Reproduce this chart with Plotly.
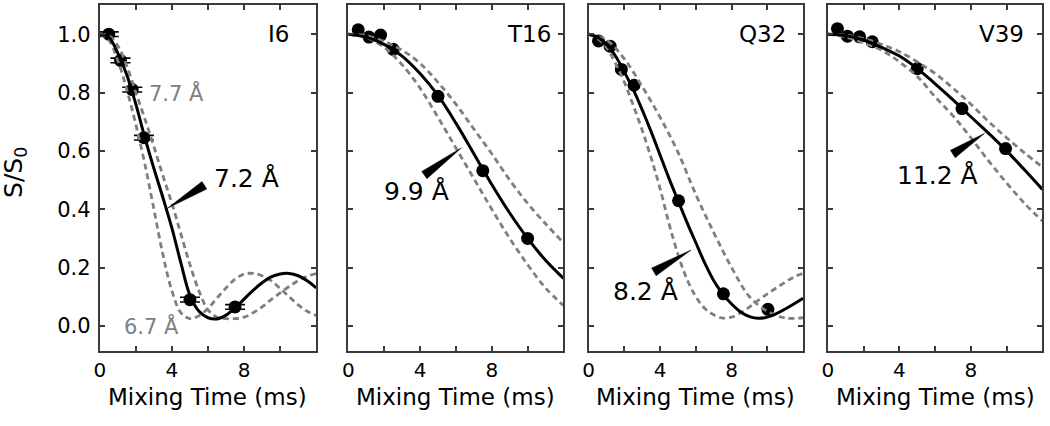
import plotly.graph_objects as go

# ---------------- data ----------------
t_half = [0.0, 0.5, 1.0, 1.5, 2.0, 2.5, 3.0, 3.5, 4.0, 4.5, 5.0, 5.5, 6.0,
          6.5, 7.0, 7.5, 8.0, 8.5, 9.0, 9.5, 10.0, 10.5, 11.0, 11.5, 12.0]
t_one = [0.0, 1.0, 2.0, 3.0, 4.0, 5.0, 6.0, 7.0, 8.0, 9.0, 10.0, 11.0, 12.0]

panel_names = ["I6", "T16", "Q32", "V39"]

# I6
i6_t = [0.5, 1.15, 1.8, 2.45, 5.0, 7.5]
i6_y = [1.0, 0.91, 0.81, 0.645, 0.09, 0.065]
i6_err = [0.008, 0.008, 0.008, 0.008, 0.008, 0.008]
i6_fit = [1.0, 0.99, 0.935, 0.86, 0.76, 0.645, 0.54, 0.44, 0.335, 0.215, 0.105, 0.05, 0.028,
          0.024, 0.037, 0.062, 0.092, 0.122, 0.148, 0.168, 0.178, 0.18, 0.172, 0.155, 0.13]
i6_short = [1.0, 0.98, 0.91, 0.81, 0.69, 0.555, 0.40, 0.245, 0.12, 0.045, 0.025, 0.035, 0.06,
            0.095, 0.13, 0.16, 0.178, 0.18, 0.172, 0.155, 0.128, 0.10, 0.072, 0.05, 0.036]
i6_long = [1.0, 0.995, 0.96, 0.89, 0.80, 0.71, 0.615, 0.515, 0.42, 0.315, 0.21, 0.12, 0.055,
           0.03, 0.025, 0.025, 0.03, 0.045, 0.065, 0.09, 0.113, 0.135, 0.155, 0.17, 0.18]

# T16
t16_t = [0.55, 1.15, 1.8, 2.5, 5.0, 7.5, 10.0]
t16_y = [1.015, 0.99, 0.997, 0.948, 0.787, 0.532, 0.30]
t16_fit = [1.0, 0.99, 0.965, 0.925, 0.865, 0.79, 0.695, 0.59, 0.485, 0.387, 0.30, 0.225, 0.163]
t16_long = [1.0, 0.995, 0.975, 0.945, 0.90, 0.835, 0.76, 0.675, 0.59, 0.50, 0.42, 0.35, 0.285]
t16_short = [1.0, 0.988, 0.955, 0.895, 0.815, 0.715, 0.61, 0.505, 0.40, 0.30, 0.21, 0.13, 0.07]

# Q32
q32_t = [0.55, 1.2, 1.83, 2.54, 5.03, 7.54, 10.03]
q32_y = [0.977, 0.959, 0.879, 0.825, 0.429, 0.11, 0.057]
q32_fit = [1.0, 0.99, 0.965, 0.925, 0.87, 0.81, 0.74, 0.665, 0.585, 0.505, 0.43, 0.355, 0.285,
           0.215, 0.155, 0.11, 0.075, 0.048, 0.032, 0.026, 0.03, 0.042, 0.058, 0.076, 0.095]
q32_long = [1.0, 0.98, 0.915, 0.82, 0.715, 0.595, 0.45, 0.32, 0.20, 0.10, 0.05, 0.027, 0.028]
q32_short = [1.0, 0.985, 0.955, 0.90, 0.835, 0.755, 0.67, 0.575, 0.47, 0.35, 0.245, 0.16, 0.10,
             0.06, 0.038, 0.027, 0.03, 0.045, 0.065, 0.088, 0.11, 0.13, 0.15, 0.168, 0.18]

# V39
v39_t = [0.53, 1.09, 1.77, 2.48, 5.0, 7.5, 9.94]
v39_y = [1.019, 0.993, 0.991, 0.974, 0.882, 0.745, 0.608]
v39_fit = [1.0, 0.995, 0.98, 0.955, 0.925, 0.882, 0.83, 0.775, 0.717, 0.66, 0.60, 0.535, 0.468]
v39_long = [1.0, 0.997, 0.985, 0.965, 0.94, 0.905, 0.865, 0.815, 0.76, 0.70, 0.645, 0.593, 0.545]
v39_short = [1.0, 0.99, 0.97, 0.945, 0.905, 0.855, 0.785, 0.72, 0.645, 0.565, 0.49, 0.42, 0.36]

x_tick_vals = [0, 4, 8]
y_tick_vals = [0.0, 0.2, 0.4, 0.6, 0.8, 1.0]

# distance labels: (panel, text, x, y, color, size)
dist_labels = [
    (0, "7.7 Å", 4.25, 0.80, "#808080", 21),
    (0, "6.7 Å", 2.85, 0.0, "#808080", 21),
    (0, "7.2 Å", 8.15, 0.505, "black", 25),
    (1, "9.9 Å", 3.8, 0.462, "black", 25),
    (2, "8.2 Å", 3.2, 0.118, "black", 25),
    (3, "11.2 Å", 6.13, 0.517, "black", 25),
]
# pointer wedges: (panel, tip_x, tip_y, base_x, base_y)
wedges = [
    (0, 3.75, 0.403, 5.8, 0.482),
    (1, 6.3, 0.61, 4.24, 0.517),
    (2, 5.73, 0.26, 3.65, 0.185),
    (3, 8.77, 0.66, 6.99, 0.589),
]
panel_label_x = [10.6, 11.4, 11.18, 11.1]

# ---------------- figure ----------------
W, H = 1050, 426
MT, MB = 5, 75
domains = [[94.3 / W, 312.0 / W], [344.3 / W, 560.7 / W],
           [586.0 / W, 801.7 / W], [826.7 / W, 1042.3 / W]]
X_RANGE = [0, 12]
Y_RANGE = [-0.086, 1.1]
FONT = "DejaVu Sans"
FRAME = "#3a3a3a"
DASH_C = "#7f7f7f"

fig = go.Figure()

panels = [
    (i6_t, i6_y, i6_err, t_half, i6_fit, t_half, i6_short, t_half, i6_long),
    (t16_t, t16_y, None, t_one, t16_fit, t_one, t16_short, t_one, t16_long),
    (q32_t, q32_y, None, t_half, q32_fit, t_half, q32_short, t_one, q32_long),
    (v39_t, v39_y, None, t_one, v39_fit, t_one, v39_short, t_one, v39_long),
]

for i, (mx, my, merr, tf, fit, ts, short, tl, long_) in enumerate(panels):
    xa = "x" if i == 0 else f"x{i+1}"
    ya = "y" if i == 0 else f"y{i+1}"
    err = dict(type="data", array=merr, visible=True, color="black",
               thickness=1.6, width=10) if merr else None
    fig.add_trace(go.Scatter(x=mx, y=my, mode="markers", xaxis=xa, yaxis=ya,
                             marker=dict(color="black", size=13),
                             error_y=err, showlegend=False, hoverinfo="skip"))
    for tt, yy in ((ts, short), (tl, long_)):
        fig.add_trace(go.Scatter(x=tt, y=yy, mode="lines", xaxis=xa, yaxis=ya,
                                 line=dict(color=DASH_C, width=2.8, dash="6px,4px",
                                           shape="spline", smoothing=1.0),
                                 showlegend=False, hoverinfo="skip"))
    fig.add_trace(go.Scatter(x=tf, y=fit, mode="lines", xaxis=xa, yaxis=ya,
                             line=dict(color="black", width=3, shape="spline", smoothing=1.0),
                             showlegend=False, hoverinfo="skip"))

layout = dict(width=W, height=H, paper_bgcolor="white", plot_bgcolor="white",
              margin=dict(l=0, r=0, t=MT, b=MB), showlegend=False,
              font=dict(family=FONT, size=21, color="black"))
for i in range(4):
    xk = "xaxis" if i == 0 else f"xaxis{i+1}"
    yk = "yaxis" if i == 0 else f"yaxis{i+1}"
    layout[xk] = dict(domain=domains[i], range=X_RANGE, anchor="y" if i == 0 else f"y{i+1}",
                      tickvals=x_tick_vals, ticks="inside",
                      ticklen=5, tickwidth=1.5, tickcolor=FRAME, showline=True,
                      linecolor=FRAME, linewidth=2, mirror="ticks", showgrid=False,
                      zeroline=False, tickfont=dict(family=FONT, size=20, color="black"),
                      ticklabelstandoff=0,
                      minor=dict(dtick=2, tick0=0, ticks="inside", ticklen=5,
                                 tickwidth=1.5, tickcolor=FRAME, showgrid=False))
    layout[yk] = dict(domain=[0, 1], range=Y_RANGE, anchor="x" if i == 0 else f"x{i+1}",
                      tickvals=y_tick_vals, tickformat=".1f", ticks="inside",
                      ticklen=5, tickwidth=1.5, tickcolor=FRAME, showline=True,
                      linecolor=FRAME, linewidth=2, mirror="ticks", showgrid=False,
                      zeroline=False, showticklabels=(i == 0),
                      tickfont=dict(family=FONT, size=21, color="black"),
                      ticklabelstandoff=3)
fig.update_layout(**layout)

annotations = []
plot_h = H - MT - MB
for i, name in enumerate(panel_names):
    xr = "x" if i == 0 else f"x{i+1}"
    yr = "y" if i == 0 else f"y{i+1}"
    annotations.append(dict(x=panel_label_x[i], y=1.0, xref=xr, yref=yr, text=name,
                            showarrow=False, xanchor="right", yanchor="middle",
                            font=dict(family=FONT, size=23, color="black")))
    cx = (domains[i][0] + domains[i][1]) / 2
    annotations.append(dict(x=cx, y=(351 - 397) / plot_h, xref="paper", yref="paper",
                            text="Mixing Time (ms)", showarrow=False, xanchor="center",
                            yanchor="middle", font=dict(family=FONT, size=23, color="black")))
annotations.append(dict(x=9 / W, y=(351 - 172) / plot_h, xref="paper", yref="paper",
                        text="S/S<sub>0</sub>", textangle=-90, showarrow=False,
                        xanchor="center", yanchor="middle",
                        font=dict(family=FONT, size=25, color="black")))
for (p, txt, x, y, col, sz) in dist_labels:
    xr = "x" if p == 0 else f"x{p+1}"
    yr = "y" if p == 0 else f"y{p+1}"
    annotations.append(dict(x=x, y=y, xref=xr, yref=yr, text=txt, showarrow=False,
                            xanchor="center", yanchor="middle",
                            font=dict(family=FONT, size=sz, color=col)))
fig.update_layout(annotations=annotations)

# wedge pointers (built in pixel space, converted to data units)
px_per_x = (domains[0][1] - domains[0][0]) * W / (X_RANGE[1] - X_RANGE[0])
px_per_y = plot_h / (Y_RANGE[1] - Y_RANGE[0])
shapes = []
for (p, tx, ty, bx, by) in wedges:
    xr = "x" if p == 0 else f"x{p+1}"
    yr = "y" if p == 0 else f"y{p+1}"
    dx = (bx - tx) * px_per_x
    dy = (by - ty) * px_per_y
    L = (dx * dx + dy * dy) ** 0.5
    nx, ny = -dy / L * 4.5, dx / L * 4.5
    b1 = (bx + nx / px_per_x, by + ny / px_per_y)
    b2 = (bx - nx / px_per_x, by - ny / px_per_y)
    path = f"M {tx},{ty} L {b1[0]},{b1[1]} L {b2[0]},{b2[1]} Z"
    shapes.append(dict(type="path", path=path, xref=xr, yref=yr,
                       fillcolor="black", line=dict(color="black", width=0.5)))
fig.update_layout(shapes=shapes)

fig.write_html("out.html", config={"displayModeBar": False},
               post_script="document.body.style.margin='0';document.body.style.padding='0';")
